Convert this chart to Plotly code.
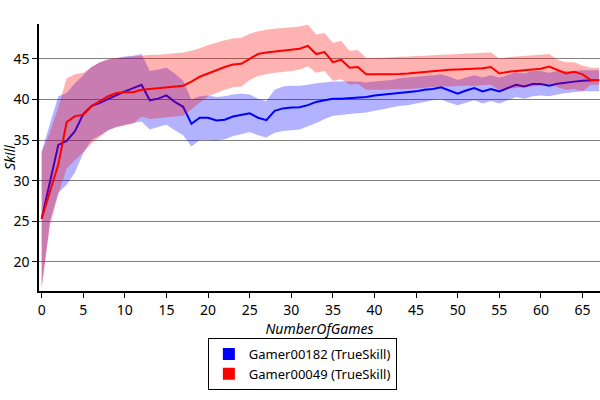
import plotly.graph_objects as go

# games played (x axis)
games = list(range(68))

# Gamer00182 - mean skill and band edges
blueMean = [25.3, 29.9, 34.4, 34.9, 36.1, 38.2, 39.2, 39.6, 40.1, 40.6,
            41.0, 41.4, 41.8, 39.9, 40.1, 40.5, 39.7, 39.1, 37.0, 37.75,
            37.75, 37.4, 37.5, 37.9, 38.1, 38.3, 37.75, 37.45, 38.6, 38.9,
            39.0, 39.05, 39.3, 39.7, 39.9, 40.1, 40.1, 40.15, 40.2, 40.3,
            40.5, 40.6, 40.7, 40.8, 40.9, 41.0, 41.2, 41.3, 41.5, 41.1,
            40.7, 41.1, 41.4, 41.0, 41.3, 41.0, 41.4, 41.8, 41.6, 41.9,
            41.9, 41.7, 41.95, 42.1, 42.2, 42.3, 42.35, 42.4]
blueUpper = [33.6, 37.0, 40.4, 40.8, 42.0, 43.0, 44.0, 44.6, 44.9, 45.1,
             45.3, 45.4, 45.6, 43.5, 43.7, 43.9, 43.2, 42.3, 40.0, 40.4,
             40.5, 40.3, 40.4, 40.6, 40.7, 40.6, 40.1, 39.8, 41.2, 41.6,
             41.7, 41.7, 41.8, 42.0, 42.1, 42.2, 42.2, 42.2, 42.2, 42.1,
             42.2, 42.3, 42.4, 42.6, 42.7, 42.8, 42.9, 43.0, 43.1, 42.8,
             42.4, 42.7, 43.0, 42.7, 43.0, 42.7, 43.0, 43.4, 43.2, 43.5,
             43.5, 43.3, 43.5, 43.5, 43.5, 43.6, 43.6, 43.6]
blueLower = [16.8, 25.0, 28.5, 29.5, 31.0, 33.4, 35.0, 35.6, 36.2, 36.6,
             36.9, 37.1, 37.3, 36.3, 36.6, 36.9, 36.2, 35.6, 34.2, 35.0,
             35.0, 34.9, 35.1, 35.5, 35.7, 36.0, 35.6, 35.3, 35.9, 36.1,
             36.2, 36.3, 36.7, 37.1, 37.6, 38.0, 38.1, 38.2, 38.3, 38.4,
             38.6, 38.8, 39.0, 39.2, 39.3, 39.5, 39.7, 39.9, 40.0, 39.6,
             39.3, 39.6, 39.9, 39.5, 39.8, 39.5, 39.9, 40.3, 40.1, 40.4,
             40.5, 40.4, 40.6, 40.8, 40.9, 41.0, 41.0, 41.0]

# Gamer00049 - mean skill and band edges
redMean = [25.3, 28.6, 32.0, 37.2, 37.95, 38.1, 39.2, 39.8, 40.4, 40.8,
           40.9, 40.9, 41.2, 41.3, 41.4, 41.5, 41.6, 41.7, 42.2, 42.8,
           43.2, 43.6, 44.0, 44.3, 44.4, 45.0, 45.6, 45.8, 45.9, 46.0,
           46.1, 46.25, 46.6, 45.6, 45.85, 44.6, 44.9, 43.9, 44.0, 43.1,
           43.1, 43.1, 43.15, 43.15, 43.2, 43.3, 43.4, 43.5, 43.55, 43.65,
           43.7, 43.75, 43.8, 43.85, 44.0, 43.2, 43.4, 43.5, 43.55, 43.7,
           43.8, 44.05, 43.6, 43.2, 43.4, 43.1, 42.4, 42.4]
redUpper = [33.5, 36.0, 39.0, 42.6, 43.1, 43.3, 44.0, 44.6, 45.0, 45.1,
            45.2, 45.3, 45.4, 45.5, 45.5, 45.6, 45.7, 45.8, 46.0, 46.3,
            46.7, 47.0, 47.3, 47.5, 47.6, 48.1, 48.4, 48.6, 48.7, 48.8,
            48.9, 49.0, 49.2, 48.0, 48.2, 47.0, 47.2, 46.0, 46.1, 45.1,
            45.1, 45.15, 45.2, 45.25, 45.3, 45.35, 45.4, 45.45, 45.5, 45.55,
            45.6, 45.65, 45.7, 45.75, 45.8, 45.05, 45.2, 45.3, 45.35, 45.45,
            45.5, 45.6, 44.9, 44.6, 44.6, 44.2, 43.9, 43.9]
redLower = [16.8, 24.5, 28.3, 31.5, 32.5, 33.5, 34.6, 35.4, 36.2, 36.6,
            36.8, 37.0, 37.9, 37.6, 37.7, 37.8, 37.9, 38.0, 38.8, 39.6,
            40.4, 40.8, 41.2, 41.5, 41.6, 42.4, 42.9, 43.1, 43.3, 43.4,
            43.5, 43.7, 44.1, 43.3, 43.5, 42.3, 42.5, 41.85, 41.9, 41.2,
            41.2, 41.2, 41.25, 41.25, 41.3, 41.35, 41.45, 41.55, 41.6, 41.6,
            41.65, 41.7, 41.7, 41.75, 41.8, 41.1, 41.3, 41.4, 41.5, 41.6,
            41.7, 41.9, 41.5, 41.2, 41.3, 41.0, 41.8, 41.8]

names = ["Gamer00182 (TrueSkill)", "Gamer00049 (TrueSkill)"]

fig = go.Figure()

series = [
    (blueMean, blueUpper, blueLower, "#0000ff", "rgba(0,0,255,0.3)"),
    (redMean, redUpper, redLower, "#ff0000", "rgba(255,0,0,0.3)"),
]
for (mean, upper, lower, col, band), name in zip(series, names):
    # band as a closed polygon: upper edge then lower edge backwards
    fig.add_trace(go.Scatter(x=games + games[::-1], y=upper + lower[::-1],
                             fill="toself", fillcolor=band, mode="none",
                             hoverinfo="skip", showlegend=False))
    fig.add_trace(go.Scatter(x=games, y=mean, mode="lines",
                             line=dict(color=col, width=2), showlegend=False))

# legend entries with square swatches
for (mean, upper, lower, col, band), name in zip(series, names):
    fig.add_trace(go.Scatter(x=[None], y=[None], mode="markers", name=name,
                             marker=dict(symbol="square", size=12, color=col)))

fig.update_layout(
    width=600, height=400,
    margin=dict(l=39, r=0, t=24, b=109, autoexpand=False),
    paper_bgcolor="white", plot_bgcolor="white",
    font=dict(family="Noto Sans", size=13, color="black"),
    legend=dict(x=0.301, y=-0.176, xanchor="left", yanchor="top",
                bordercolor="black", borderwidth=1, bgcolor="white",
                font=dict(size=13), itemsizing="constant",
                tracegroupgap=0),
)
fig.update_xaxes(range=[-0.32, 67.1], tick0=0, dtick=5, showgrid=False,
                 automargin=False,
                 zeroline=False, showline=True, linecolor="black", linewidth=1.5,
                 ticks="outside", ticklen=5, tickcolor="black",
                 tickfont=dict(size=14),
                 title=dict(text="<i>NumberOfGames</i>", font=dict(size=14), standoff=2))
fig.update_yaxes(range=[16.4, 49.3], tick0=20, dtick=5, showgrid=True,
                 automargin=False,
                 gridcolor="#808080", gridwidth=1, zeroline=False,
                 showline=True, linecolor="black", linewidth=1.5,
                 ticks="outside", ticklen=5, tickcolor="black",
                 tickfont=dict(size=14),
                 title=dict(text="<i>Skill</i>", font=dict(size=14), standoff=4))

# the page body has a default margin; drop it so the chart sits at 0,0
fig.write_html("out.html", config={"displayModeBar": False},
               post_script="document.body.style.margin='0';")
